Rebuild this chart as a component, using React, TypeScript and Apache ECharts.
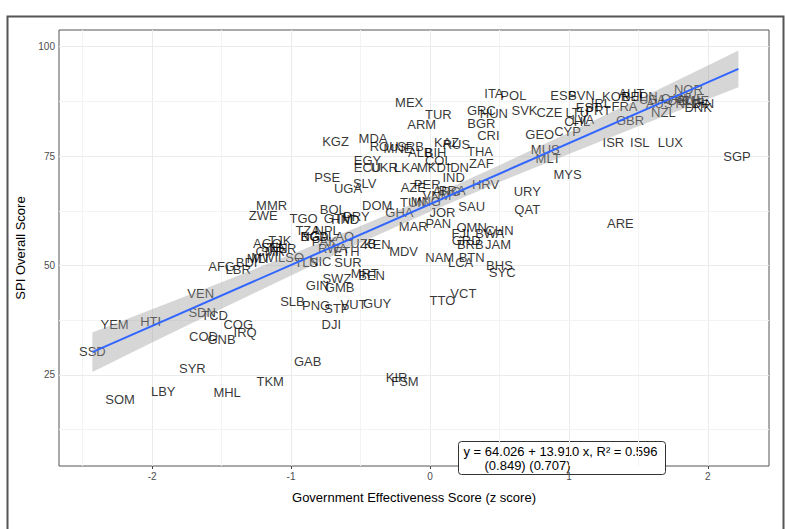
import React, { useEffect, useRef } from "react";
import * as echarts from "echarts";

const codes = [
  "ITA","POL","MEX","TUR","ARM","GRC","HUN","SVK","BGR","CRI",
  "KGZ","MDA","ROU","MNE","SRB","KAZ","RUS","ALB","BIH","THA",
  "EGY","ECU","UKR","LKA","COL","MKD","IDN","ZAF","IND","PSE",
  "UGA","SLV","AZE","PER","HRV","URY","VNM","BRA","ARG","MMR",
  "ZWE","DOM","TUN","MNG","GHA","JOR","SAU","QAT","ARE","BOL",
  "TGO","GTM","PRY","HND","TZA","NPL","BGD","MAR","PAN","OMN",
  "FJI","CHN","BWA","BRB","GRD","JAM","BHS","SYC","LCA","BTN",
  "NAM","MDV","KEN","UZB","ETH","RWA","PAK","NGA","LAO","TJK",
  "AGO","SEN","NER","CMR","MWI","MLI","BDI","AFG","LBR","LSO",
  "TLS","NIC","SUR","SWZ","MRT","BEN","GIN","GMB","SLB","PNG",
  "STP","VUT","GUY","TTO","VCT","DJI","VEN","SDN","TCD","COG",
  "IRQ","COD","GNB","HTI","YEM","SSD","SOM","LBY","SYR","MHL",
  "TKM","GAB","KIR","FSM","ESP","SVN","CZE","LTU","EST","PRT",
  "LVA","CHL","CYP","GEO","MUS","MLT","MYS","IRL","KOR","AUT",
  "BEL","JPN","FRA","GBR","ISR","ISL","LUX","USA","AUS","CAN",
  "DEU","NZL","NOR","SWE","NLD","CHE","FIN","DNK","SGP"
];

const govEff = [
  0.46,0.60,-0.15,0.06,-0.06,0.37,0.46,0.68,0.37,0.42,
  -0.68,-0.41,-0.33,-0.23,-0.14,0.12,0.19,-0.07,0.04,0.36,
  -0.45,-0.45,-0.33,-0.17,0.06,0.01,0.20,0.37,0.17,-0.74,
  -0.59,-0.47,-0.12,-0.02,0.40,0.70,0.05,0.16,0.12,-1.14,
  -1.20,-0.38,-0.12,-0.03,-0.22,0.09,0.30,0.70,1.37,-0.70,
  -0.91,-0.66,-0.53,-0.61,-0.88,-0.74,-0.83,-0.12,0.06,0.30,
  0.22,0.50,0.43,0.29,0.26,0.49,0.50,0.52,0.22,0.30,
  0.07,-0.19,-0.38,-0.48,-0.60,-0.70,-0.76,-0.83,-0.64,-1.08,
  -1.17,-1.12,-1.06,-1.15,-1.19,-1.24,-1.32,-1.50,-1.38,-1.00,
  -0.89,-0.79,-0.59,-0.67,-0.47,-0.42,-0.81,-0.65,-0.99,-0.82,
  -0.67,-0.55,-0.38,0.09,0.24,-0.71,-1.65,-1.64,-1.55,-1.38,
  -1.33,-1.63,-1.50,-2.01,-2.27,-2.43,-2.23,-1.92,-1.71,-1.46,
  -1.15,-0.88,-0.24,-0.18,0.96,1.09,0.86,1.06,1.14,1.21,
  1.10,1.06,0.99,0.79,0.83,0.85,0.99,1.23,1.34,1.45,
  1.47,1.55,1.40,1.44,1.32,1.51,1.73,1.60,1.65,1.76,
  1.81,1.68,1.86,1.87,1.86,1.91,1.97,1.93,2.21
];

const spiScore = [
  89.4,88.9,87.3,84.6,82.1,85.5,84.8,85.3,82.5,79.6,
  78.4,79.1,77.3,76.8,77.1,78.2,77.7,75.9,75.9,76.1,
  73.9,72.5,72.5,72.5,74.1,72.3,72.3,73.4,70.2,70.2,
  67.7,68.8,67.9,68.6,68.4,66.8,66.1,67.2,67.0,63.8,
  61.5,63.8,64.3,64.7,62.0,62.0,63.4,62.9,59.5,62.7,
  60.8,60.8,61.1,60.6,58.1,57.9,56.7,58.8,59.7,58.6,
  57.4,58.1,57.4,54.9,55.8,54.7,50.1,48.5,50.8,51.9,
  51.9,53.1,54.7,55.1,53.3,54.0,55.4,56.7,56.7,55.8,
  55.1,54.2,54.0,53.3,51.9,51.7,50.8,49.7,49.2,51.9,
  50.8,51.0,50.8,47.1,48.1,47.8,45.5,44.9,41.7,40.8,
  40.1,41.0,41.4,42.1,43.7,36.6,43.7,39.2,38.5,36.6,
  34.8,33.7,33.2,37.1,36.6,30.3,19.5,21.3,26.4,20.9,
  23.4,28.0,24.5,23.6,88.9,88.9,85.0,85.0,86.0,85.3,
  83.4,82.8,80.5,80.0,76.4,74.5,70.9,87.1,88.5,89.4,
  88.5,88.5,86.4,83.2,78.2,78.0,78.2,88.0,87.1,88.2,
  87.8,85.0,90.1,88.2,87.1,87.8,87.1,86.0,74.8
];

// fitted line (coefficients printed in the chart) and its x extent
const fitIntercept = 64.026;
const fitSlope = 13.91;
const fitXRange = [-2.43, 2.22];

// confidence band
const bandX = [-2.43, -2, -1.5, -1, -0.5, 0, 0.5, 1, 1.5, 2, 2.22];
const bandLow = [25.7, 32.4, 40.1, 47.7, 55.2, 62.3, 69.1, 75.5, 81.8, 88.0, 90.7];
const bandHigh = [34.7, 40.0, 46.2, 52.5, 59.0, 65.7, 72.9, 80.4, 88.0, 95.7, 99.1];

const xTicks = [-2, -1, 0, 1, 2];
const yTicks = [25, 50, 75, 100];
const xMinor = [-2.5, -1.5, -0.5, 0.5, 1.5];
const yMinor = [12.5, 37.5, 62.5, 87.5];

const eqLine1 = "y = 64.026 + 13.910 x, R\u00B2 = 0.596";
const eqLine2 = "(0.849) (0.707)";

const FONT = "'Liberation Sans', Arial, Helvetica, sans-serif";

export default function App() {
  const ref = useRef<HTMLDivElement>(null);
  useEffect(() => {
    if (!ref.current) return;
    const chart = echarts.init(ref.current, undefined, { renderer: "svg" });
    const points = codes.map((c, i) => [govEff[i], spiScore[i], c]);
    const fitData = fitXRange.map((x) => [x, fitIntercept + fitSlope * x]);
    const gridMarks: any[] = [];
    const major = { color: "#ebebeb", width: 1, type: "solid" };
    const minor = { color: "#f3f3f3", width: 1, type: "solid" };
    xTicks.forEach((v) => gridMarks.push({ xAxis: v, lineStyle: major }));
    xMinor.forEach((v) => gridMarks.push({ xAxis: v, lineStyle: minor }));
    yTicks.forEach((v) => gridMarks.push({ yAxis: v, lineStyle: major }));
    yMinor.forEach((v) => gridMarks.push({ yAxis: v, lineStyle: minor }));

    chart.setOption({
      animation: false,
      backgroundColor: "#ffffff",
      textStyle: { fontFamily: FONT },
      grid: {
        left: 59, top: 30, width: 710, height: 436,
        show: true, borderColor: "#555555", borderWidth: 1, backgroundColor: "transparent",
      },
      xAxis: {
        type: "value", min: -2.67, max: 2.44,
        name: "Government Effectiveness Score (z score)",
        nameLocation: "middle", nameGap: 25,
        nameTextStyle: { fontSize: 13, color: "#000", fontFamily: FONT },
        axisLine: { show: false },
        splitLine: { show: false },
        axisTick: { show: true, customValues: xTicks, length: 3, lineStyle: { color: "#444" } },
        axisLabel: { customValues: xTicks, fontSize: 10, color: "#4d4d4d", margin: 5, fontFamily: FONT },
      },
      yAxis: {
        type: "value", min: 4.2, max: 103.8,
        name: "SPI Overall Score",
        nameLocation: "middle", nameGap: 31,
        nameTextStyle: { fontSize: 13, color: "#000", fontFamily: FONT },
        axisLine: { show: false },
        splitLine: { show: false },
        axisTick: { show: true, customValues: yTicks, length: 3, lineStyle: { color: "#444" } },
        axisLabel: { customValues: yTicks, fontSize: 10, color: "#4d4d4d", margin: 4, fontFamily: FONT },
      },
      series: [
        {
          type: "scatter",
          z: 3,
          data: points,
          symbolSize: 1,
          itemStyle: { color: "rgba(0,0,0,0)" },
          silent: true,
          label: {
            show: true,
            position: "inside",
            formatter: (p: any) => p.data[2],
            color: "#000",
            fontSize: 13,
            fontFamily: FONT,
          },
          labelLayout: { hideOverlap: false },
        },
        {
          type: "custom",
          z: 4,
          silent: true,
          data: [[0, 50]],
          renderItem: (_params: any, api: any) => {
            const pts: number[][] = [];
            for (let i = 0; i < bandX.length; i++) pts.push(api.coord([bandX[i], bandHigh[i]]));
            for (let i = bandX.length - 1; i >= 0; i--) pts.push(api.coord([bandX[i], bandLow[i]]));
            return {
              type: "polygon",
              shape: { points: pts },
              style: { fill: "rgba(153,153,153,0.4)" },
            };
          },
        },
        {
          type: "line",
          z: 5,
          data: fitData,
          symbol: "none",
          silent: true,
          lineStyle: { color: "#3366FF", width: 2 },
          markLine: {
            silent: true,
            symbol: "none",
            z: 1,
            label: { show: false },
            animation: false,
            data: gridMarks,
          },
        },
      ],
      graphic: [
        {
          type: "rect",
          left: 5, top: 14,
          shape: { width: 776, height: 530 },
          style: { fill: "none", stroke: "#555", lineWidth: 2 },
          silent: true,
        },
        {
          type: "group",
          left: 458, top: 441,
          z: 100,
          children: [
            {
              type: "rect",
              shape: { x: 0, y: 0, width: 207, height: 33, r: 3 },
              style: { fill: "#ffffff", stroke: "#333", lineWidth: 1 },
            },
            {
              type: "text",
              x: 5, y: 10,
              style: { text: eqLine1, font: "13px " + FONT, fill: "#000", verticalAlign: "middle" },
            },
            {
              type: "text",
              x: 26, y: 24,
              style: { text: eqLine2, font: "13px " + FONT, fill: "#000", verticalAlign: "middle" },
            },
          ],
        },
      ],
    });
    return () => chart.dispose();
  }, []);
  return (
    <div
      ref={ref}
      style={{ position: "fixed", left: 0, top: 0, width: 785, height: 529, background: "#fff" }}
    />
  );
}
